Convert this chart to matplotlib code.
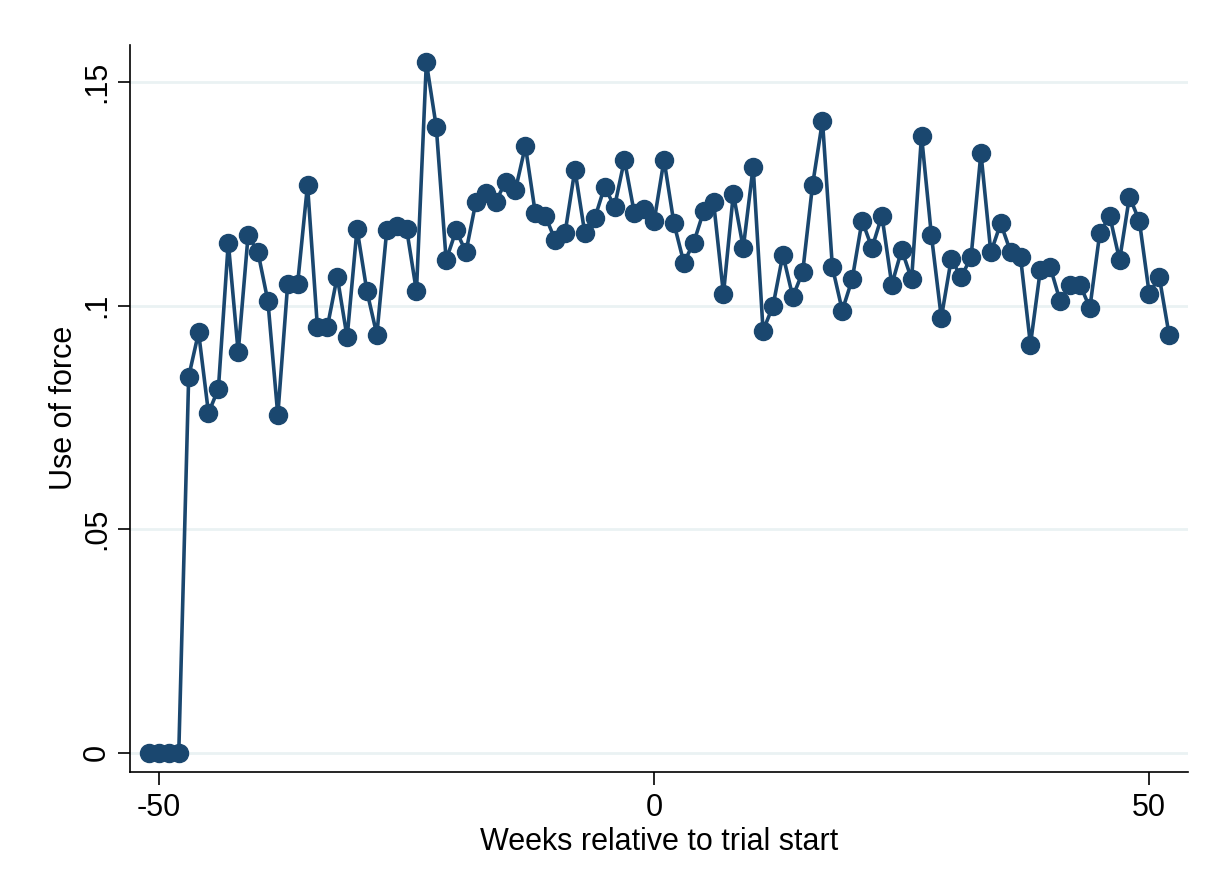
import numpy as np
import matplotlib
matplotlib.use("Agg")
import matplotlib.pyplot as plt

plt.rcParams['font.family'] = ['Liberation Sans', 'DejaVu Sans']
plt.rcParams['axes.unicode_minus'] = False

# weeks relative to trial start, -51 .. 52
weeks = np.arange(-51, 53)

use_of_force = [
    0.0, 0.0, 0.0, 0.0,
    0.0841, 0.0940, 0.0760, 0.0814, 0.1141, 0.0896, 0.1157, 0.1119, 0.1010, 0.0755,
    0.1049, 0.1049, 0.1270, 0.0952, 0.0952, 0.1065, 0.0929, 0.1172, 0.1032, 0.0935,
    0.1168, 0.1177, 0.1172, 0.1032, 0.1544, 0.1400, 0.1102, 0.1168, 0.1120, 0.1232,
    0.1251, 0.1232, 0.1277, 0.1259, 0.1357, 0.1207, 0.1201, 0.1147, 0.1162, 0.1304,
    0.1162, 0.1195, 0.1266, 0.1221, 0.1326, 0.1207, 0.1217, 0.1189,
    0.1326, 0.1184, 0.1096, 0.1141, 0.1211, 0.1232, 0.1026, 0.1250, 0.1129, 0.1310,
    0.0944, 0.0999, 0.1114, 0.1020, 0.1075, 0.1270, 0.1413, 0.1086, 0.0989, 0.1059,
    0.1190, 0.1129, 0.1201, 0.1047, 0.1125, 0.1059, 0.1380, 0.1157, 0.0973, 0.1104,
    0.1064, 0.1108, 0.1341, 0.1119, 0.1184, 0.1120, 0.1108, 0.0913, 0.1080, 0.1086,
    0.1010, 0.1047, 0.1047, 0.0995, 0.1162, 0.1201, 0.1102, 0.1244, 0.1189, 0.1026,
    0.1065, 0.0935,
]

navy = '#1a476f'

fig = plt.figure(figsize=(12.06, 8.81), dpi=100)
ax = fig.add_axes([0.108, 0.124, 0.877, 0.825])

ax.plot(weeks, use_of_force, color=navy, lw=2.6, marker='o', markersize=13,
        markeredgecolor=navy, zorder=3)

ax.set_xlim(-52.9, 53.9)
ax.set_ylim(-0.00425, 0.1583)

ax.set_xticks([-50, 0, 50])
ax.set_yticks([0, 0.05, 0.1, 0.15])
ax.set_yticklabels(['0', '.05', '.1', '.15'], rotation=90, va='center')
ax.grid(axis='y', color='#eaf2f3', lw=2, zorder=0)
ax.set_axisbelow(True)

for s in ['top', 'right']:
    ax.spines[s].set_visible(False)
for s in ['left', 'bottom']:
    ax.spines[s].set_linewidth(1.2)

ax.tick_params(axis='both', length=9, width=1.2, labelsize=22)
ax.tick_params(axis='x', pad=6)
ax.tick_params(axis='y', pad=4)

ax.set_xlabel('Weeks relative to trial start', fontsize=22, labelpad=3)
ax.set_ylabel('Use of force', fontsize=22, labelpad=2)

fig.savefig('out.png', dpi=100, facecolor='white')
